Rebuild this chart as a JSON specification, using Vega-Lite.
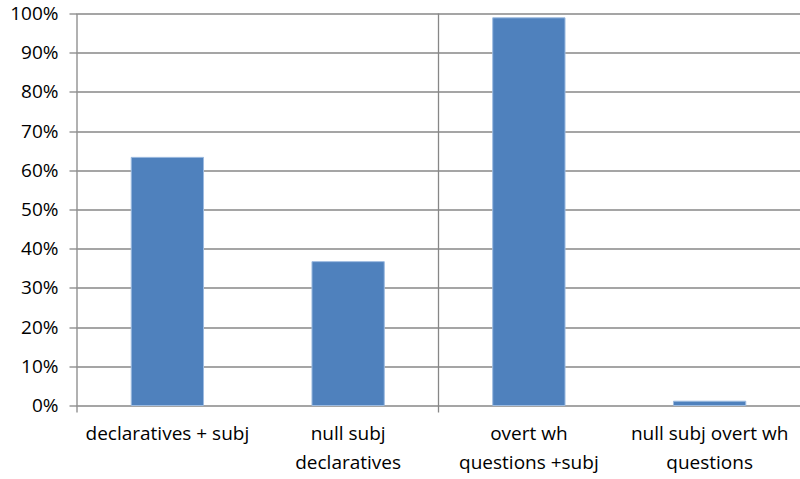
{
  "$schema": "https://vega.github.io/schema/vega-lite/v6.json",
  "width": 723,
  "height": 392,
  "autosize": {"type": "none"},
  "padding": {"left": 77, "top": 13.5, "right": 0, "bottom": 73.5},
  "background": "white",
  "config": {
    "view": {"stroke": null},
    "font": "Open Sans",
    "axis": {"labelFont": "Open Sans", "labelColor": "#000000", "labelFontWeight": "normal"},
    "axisY": {
      "tickCount": 10,
      "format": ".0%",
      "labelOverlap": false,
      "domain": false,
      "grid": true,
      "gridColor": "#878787",
      "gridWidth": 1.3,
      "gridOpacity": 1,
      "ticks": true,
      "tickSize": 8,
      "tickColor": "#878787",
      "tickWidth": 1.3,
      "labelFontSize": 19,
      "labelPadding": 11,
      "title": null
    }
  },
  "data": {
    "values": [
      {"cat": "declaratives + subj", "group": "declaratives", "share": 0.633},
      {"cat": "null subj declaratives", "group": "declaratives", "share": 0.367},
      {"cat": "overt wh questions +subj", "group": "wh questions", "share": 0.989},
      {"cat": "null subj overt wh questions", "group": "wh questions", "share": 0.011}
    ]
  },
  "encoding": {
    "x": {
      "field": "cat",
      "type": "nominal",
      "sort": null,
      "scale": {"paddingInner": 0.6, "paddingOuter": 0.3},
      "axis": {
        "title": null,
        "domain": false,
        "ticks": false,
        "tickSize": 0,
        "labelAngle": 0,
        "labelFontSize": 19,
        "labelPadding": 19,
        "labelLineHeight": 29,
        "labelLimit": 300,
        "labelExpr": "datum.value == 'null subj declaratives' ? ['null subj', 'declaratives'] : datum.value == 'overt wh questions +subj' ? ['overt wh', 'questions +subj'] : datum.value == 'null subj overt wh questions' ? ['null subj overt wh', 'questions'] : datum.value"
      }
    }
  },
  "layer": [
    {
      "mark": {"type": "bar", "fill": "#4F81BD", "stroke": "#9DBBE0", "strokeWidth": 1},
      "encoding": {
        "y": {
          "field": "share",
          "type": "quantitative",
          "scale": {"domain": [0, 1], "nice": false}
        }
      }
    },
    {
      "transform": [
        {"filter": "datum.cat == 'declaratives + subj' || datum.cat == 'overt wh questions +subj'"}
      ],
      "mark": {"type": "rule", "color": "#878787", "strokeWidth": 1.3, "y2Offset": 7},
      "encoding": {
        "x": {"field": "cat", "type": "nominal", "sort": null, "bandPosition": -0.75},
        "y": {"datum": 1},
        "y2": {"datum": 0}
      }
    }
  ]
}
